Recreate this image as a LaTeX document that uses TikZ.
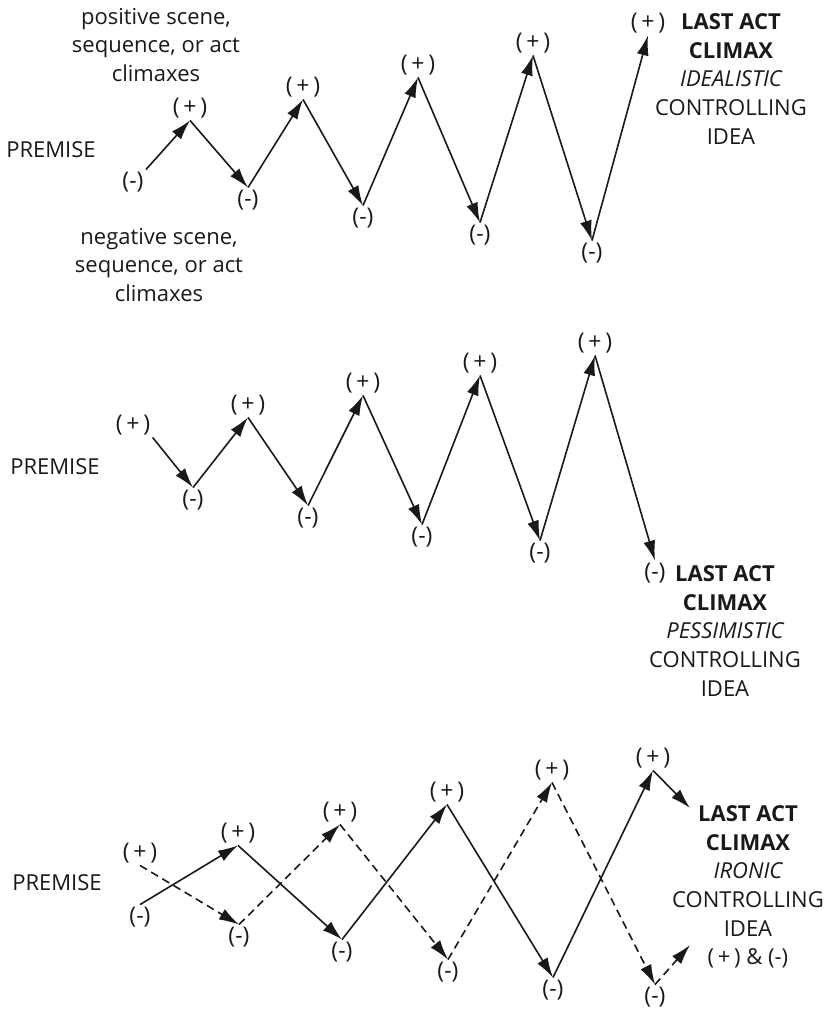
\documentclass[tikz,border=0pt]{standalone}
\usepackage{fontspec}
\setmainfont{Open Sans}
\usetikzlibrary{arrows.meta}
\newcommand\plusl{(\,+\,)}
\newcommand\minusl{(-)}
\begin{document}
\begin{tikzpicture}[x=0.5pt,y=-0.5pt,
  lab/.style={inner sep=1pt, font=\fontsize{11.5}{12}\selectfont, text=black!90},
  txt/.style={align=center, inner sep=0pt, font=\fontsize{11}{14.3}\selectfont, text=black!90},
  conn/.style={line width=0.8pt, draw=black!90, -{Latex[length=10pt,width=6pt]}},
  dconn/.style={conn, dash pattern=on 4pt off 2.5pt}]
\useasboundingbox (0,0) rectangle (831,1014);

% ---------- top: idealistic ----------
\node[txt] (tprem) at (51,150) {PREMISE};
\node[txt] (tpos) at (156,45) {positive scene,\\sequence, or act\\climaxes};
\node[txt] (tneg) at (159,265) {negative scene,\\sequence, or act\\climaxes};
\node[lab] (tm1) at (133,182) {\minusl};
\node[lab] (tp1) at (190,108) {\plusl};
\node[lab] (tm2) at (248,200) {\minusl};
\node[lab] (tp2) at (303,87) {\plusl};
\node[lab] (tm3) at (363,218) {\minusl};
\node[lab] (tp3) at (418,65) {\plusl};
\node[lab] (tm4) at (480,235) {\minusl};
\node[lab] (tp4) at (533,43) {\plusl};
\node[lab] (tm5) at (592,253) {\minusl};
\node[lab] (tp5) at (648,23) {\plusl};
\node[txt] (tend) at (731,79) {\bfseries LAST ACT\\\bfseries CLIMAX\\\itshape IDEALISTIC\\CONTROLLING\\IDEA};
\draw[conn] (tm1.north east) -- (tp1.south);
\draw[conn] (tp1.south) -- (tm2.north);
\draw[conn] (tm2.north) -- (tp2.south);
\draw[conn] (tp2.south) -- (tm3.north);
\draw[conn] (tm3.north) -- (tp3.south);
\draw[conn] (tp3.south) -- (tm4.north);
\draw[conn] (tm4.north) -- (tp4.south);
\draw[conn] (tp4.south) -- (tm5.north);
\draw[conn] (tm5.north) -- (tp5.south);

% ---------- middle: pessimistic ----------
\node[txt] (mprem) at (55,467) {PREMISE};
\node[lab] (mq1) at (133,425) {\plusl};
\node[lab] (mn1) at (193,500) {\minusl};
\node[lab] (mq2) at (248,405) {\plusl};
\node[lab] (mn2) at (308,518) {\minusl};
\node[lab] (mq3) at (363,383) {\plusl};
\node[lab] (mn3) at (422,537) {\minusl};
\node[lab] (mq4) at (480,363) {\plusl};
\node[lab] (mn4) at (540,553) {\minusl};
\node[lab] (mq5) at (595,343) {\plusl};
\node[lab] (mn5) at (655,573) {\minusl};
\node[txt] (mend) at (725,631) {\bfseries LAST ACT\\\bfseries CLIMAX\\\itshape PESSIMISTIC\\CONTROLLING\\IDEA};
\draw[conn] (mq1.south east) -- (mn1.north);
\draw[conn] (mn1.north) -- (mq2.south);
\draw[conn] (mq2.south) -- (mn2.north);
\draw[conn] (mn2.north) -- (mq3.south);
\draw[conn] (mq3.south) -- (mn3.north);
\draw[conn] (mn3.north) -- (mq4.south);
\draw[conn] (mq4.south) -- (mn4.north);
\draw[conn] (mn4.north) -- (mq5.south);
\draw[conn] (mq5.south) -- (mn5.north);

% ---------- bottom: ironic ----------
\node[txt] (bprem) at (57,883) {PREMISE};
\node[lab] (bpa) at (140,853) {\plusl};
\node[lab] (bma) at (140,917) {\minusl};
\node[lab] (bpb) at (238,833) {\plusl};
\node[lab] (bmb) at (239,937) {\minusl};
\node[lab] (bpc) at (340,812) {\plusl};
\node[lab] (bmc) at (342,952) {\minusl};
\node[lab] (bpd) at (447,792) {\plusl};
\node[lab] (bmd) at (448,972) {\minusl};
\node[lab] (bpe) at (552,770) {\plusl};
\node[lab] (bme) at (553,990) {\minusl};
\node[lab] (bpf) at (653,758) {\plusl};
\node[lab] (bmf) at (655,997) {\minusl};
\node[txt] (bend) at (748,887) {\bfseries LAST ACT\\\bfseries CLIMAX\\\itshape IRONIC\\CONTROLLING\\IDEA\\\plusl{} \& \minusl};
\coordinate (bc1) at (690,808);
\coordinate (bc2) at (690,945);
% solid path
\draw[conn] (bma.north) -- (bpb.south);
\draw[conn] (bpb.south) -- (bmc.north);
\draw[conn] (bmc.north) -- (bpd.south);
\draw[conn] (bpd.south) -- (bme.north);
\draw[conn] (bme.north) -- (bpf.south);
\draw[conn] (bpf.south) -- (bc1);
% dashed path
\draw[dconn] (bpa.south) -- (bmb.north);
\draw[dconn] (bmb.north) -- (bpc.south);
\draw[dconn] (bpc.south) -- (bmd.north);
\draw[dconn] (bmd.north) -- (bpe.south);
\draw[dconn] (bpe.south) -- (bmf.north);
\draw[dconn] (bmf.north) -- (bc2);
\end{tikzpicture}
\end{document}
